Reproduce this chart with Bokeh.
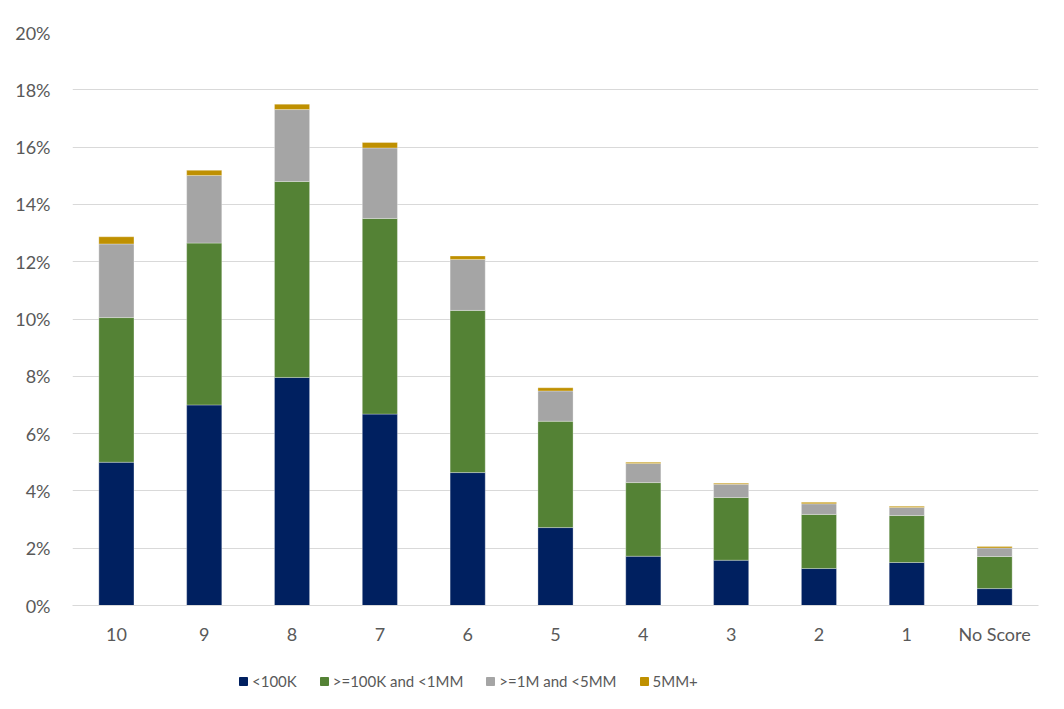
from bokeh.plotting import figure
from bokeh.layouts import column
from bokeh.models import ColumnDataSource, FactorRange, Legend, LegendItem, FixedTicker, PrintfTickFormatter, Range1d
from bokeh.embed import file_html
from bokeh.resources import INLINE

categories = ["10", "9", "8", "7", "6", "5", "4", "3", "2", "1", "No Score"]
lt_100k = [5.00, 7.00, 7.96, 6.68, 4.64, 2.72, 1.72, 1.58, 1.29, 1.50, 0.59]
k100_1mm = [5.05, 5.65, 6.84, 6.83, 5.66, 3.71, 2.57, 2.19, 1.89, 1.64, 1.12]
m1_5mm = [2.57, 2.36, 2.51, 2.46, 1.78, 1.06, 0.67, 0.46, 0.37, 0.28, 0.30]
mm5_plus = [0.25, 0.18, 0.19, 0.19, 0.12, 0.11, 0.04, 0.04, 0.05, 0.04, 0.05]
series_names = ["<100K", ">=100K and <1MM", ">=1M and <5MM", "5MM+"]
y_ticks = [0, 2, 4, 6, 8, 10, 12, 14, 16, 18, 20]

colors = ["#002060", "#548235", "#A5A5A5", "#BF9000"]
keys = ["a", "b", "c", "d"]

source = ColumnDataSource(dict(cat=categories, a=lt_100k, b=k100_1mm, c=m1_5mm, d=mm5_plus))

FONT = "Lato"
TXT = "#595959"

p = figure(x_range=FactorRange(*categories), y_range=(0, 20),
           frame_width=966, frame_height=573, output_backend="svg", toolbar_location=None,
           min_border_left=72, min_border_right=10, min_border_top=32, min_border_bottom=45)

p.vbar_stack(keys, x="cat", width=0.40, color=colors, source=source,
             line_color="white", line_width=0.6, line_alpha=0.5)

p.outline_line_color = None
p.background_fill_color = "white"
p.border_fill_color = "white"

p.xgrid.grid_line_color = None
p.ygrid.grid_line_color = "#D9D9D9"
p.ygrid.grid_line_width = 1.2

p.yaxis.ticker = FixedTicker(ticks=y_ticks)
p.yaxis.formatter = PrintfTickFormatter(format="%d%%")
p.yaxis.axis_line_color = None
p.yaxis.major_tick_line_color = None
p.yaxis.minor_tick_line_color = None
p.yaxis.major_tick_out = 0
p.yaxis.major_label_text_font = FONT
p.yaxis.major_label_text_font_size = "18px"
p.yaxis.major_label_text_color = TXT
p.yaxis.major_label_standoff = 22

p.xaxis.axis_line_color = "#D9D9D9"
p.xaxis.axis_line_width = 1.2
p.xaxis.major_tick_line_color = None
p.xaxis.minor_tick_line_color = None
p.xaxis.major_tick_out = 0
p.xaxis.major_label_text_font = FONT
p.xaxis.major_label_text_font_size = "18px"
p.xaxis.major_label_text_color = TXT
p.xaxis.major_label_standoff = 17

# legend strip below the chart (frames of a column are aligned on the left)
lg = figure(width=1048, height=55, output_backend="svg", toolbar_location=None,
            x_axis_type=None, y_axis_type=None,
            x_range=Range1d(0, 1), y_range=Range1d(0, 1),
            min_border_left=72, min_border_right=10, min_border_top=0, min_border_bottom=0)
lg.outline_line_color = None
lg.xgrid.grid_line_color = None
lg.ygrid.grid_line_color = None
swatches = [lg.vbar(x=[-5], top=[-5], bottom=[-6], width=0.1, color=c) for c in colors]
legend = Legend(items=[LegendItem(label=n, renderers=[r]) for n, r in zip(series_names, swatches)],
                orientation="horizontal", location=(166, 15),
                label_text_font=FONT, label_text_font_size="15px", label_text_color=TXT,
                glyph_width=10, glyph_height=10, label_standoff=4, spacing=22,
                border_line_color=None, background_fill_alpha=0,
                margin=0, padding=0)
lg.add_layout(legend)

layout = column(p, lg, spacing=0)
open("out.html", "w").write(file_html(layout, INLINE))
